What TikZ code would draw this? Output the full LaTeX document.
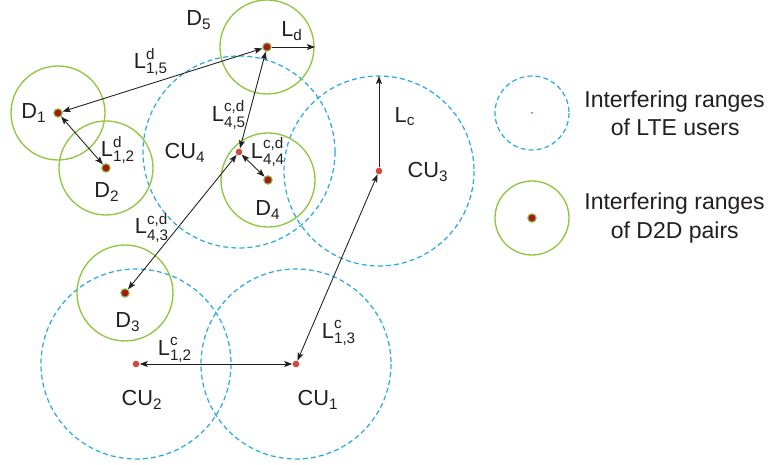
\documentclass[tikz,border=0pt]{standalone}
\usepackage{amsmath}
\usepackage{fontspec}
\setmainfont{Liberation Sans}
\usetikzlibrary{arrows.meta}
\definecolor{skyblue}{RGB}{41, 171, 226}
\definecolor{leafgreen}{RGB}{141, 198, 63}
\definecolor{darkred}{RGB}{165, 25, 25}
\definecolor{pointred}{RGB}{205, 75, 65}
\definecolor{inkgray}{RGB}{35, 31, 32}
\newcommand{\lnk}[3]{$\text{#1}^{\text{#2}}_{\text{#3}}$}
\newcommand{\idx}[2]{$\text{#1}_{\text{#2}}$}

\begin{document}
\begin{tikzpicture}[x=0.02cm, y=-0.02cm, >={Stealth[length=4.6pt, width=3.4pt, inset=1pt]},
    cellu/.style={skyblue, dash pattern=on 2.8pt off 1.8pt, line width=0.7pt},
    dpair/.style={leafgreen, line width=0.75pt},
    ddot/.style={circle, fill=darkred, draw=leafgreen, line width=0.6pt, inner sep=0pt, minimum size=4.8pt},
    cdot/.style={circle, fill=pointred, inner sep=0pt, minimum size=3.8pt},
    lbl/.style={font=\fontsize{12.4}{14}\selectfont, text=inkgray, inner sep=0pt},
    legtext/.style={font=\fontsize{13.1}{16}\selectfont, text=inkgray, align=left, anchor=west, inner sep=0pt},
    link/.style={<->, line width=0.5pt, inkgray}]
    \useasboundingbox (0,0) rectangle (768,465);
    % interfering ranges
    \draw[cellu] (239,152) circle (96);
    \draw[cellu] (379,171) circle (95);
    \draw[cellu] (136,364) circle (95);
    \draw[cellu] (296,364) circle (95);
    \draw[dpair] ( 58,113) circle (47);
    \draw[dpair] (106,168) circle (47);
    \draw[dpair] (267, 47) circle (47);
    \draw[dpair] (268,180) circle (47);
    \draw[dpair] (125,293) circle (48);
    % users
    \node[ddot] (d1) at ( 58,113) {};
    \node[ddot] (d2) at (106,168) {};
    \node[ddot] (d3) at (125,293) {};
    \node[ddot] (d4) at (268,180) {};
    \node[ddot] (d5) at (267, 47) {};
    \node[cdot] (cu1) at (296,364) {};
    \node[cdot] (cu2) at (136,364) {};
    \node[cdot] (cu3) at (379,171) {};
    \node[cdot] (cu4) at (239,152) {};
    \coordinate (ldend) at (315,47);
    \coordinate (lctop) at (379,76);
    % links
    \draw[link] (d1) -- (d5);
    \draw[link] (d1) -- (d2);
    \draw[link] (cu4) -- (d5);
    \draw[link] (cu4) -- (d4);
    \draw[link] (d3) -- (cu4);
    \draw[link] (cu1) -- (cu3);
    \draw[link] (cu2) -- (cu1);
    \draw[->, line width=0.5pt, inkgray] (d5) -- (ldend);
    \draw[->, line width=0.5pt, inkgray] (cu3) -- (lctop);
    % labels
    \node[lbl] (t5)  at (199, 20) {\idx{D}{5}};
    \node[lbl] (tld) at (292, 31) {\idx{L}{d}};
    \node[lbl] (t15) at (151, 62) {\lnk{L}{d}{1,5}};
    \node[lbl] (t1)  at ( 34,113) {\idx{D}{1}};
    \node[lbl] (t12) at (118,150) {\lnk{L}{d}{1,2}};
    \node[lbl] (t2)  at (107,192) {\idx{D}{2}};
    \node[lbl] (tc4) at (185,153) {\idx{CU}{4}};
    \node[lbl] (t45) at (229,115) {\lnk{L}{c,d}{4,5}};
    \node[lbl] (t44) at (268,152) {\lnk{L}{c,d}{4,4}};
    \node[lbl] (t4)  at (268,210) {\idx{D}{4}};
    \node[lbl] (t43) at (152,228) {\lnk{L}{c,d}{4,3}};
    \node[lbl] (tlc) at (405,117) {\idx{L}{c}};
    \node[lbl] (tc3) at (428,172) {\idx{CU}{3}};
    \node[lbl] (t3)  at (128,322) {\idx{D}{3}};
    \node[lbl] (tc12) at (175,350) {\lnk{L}{c}{1,2}};
    \node[lbl] (tc13) at (339,333) {\lnk{L}{c}{1,3}};
    \node[lbl] (tc2) at (142,400) {\idx{CU}{2}};
    \node[lbl] (tc1) at (318,400) {\idx{CU}{1}};
    % legend
    \draw[cellu] (532,113) circle (37);
    \fill[pointred] (532,113) circle (1);
    \node[legtext] (leglte) at (584,113) {Interfering ranges\\\hspace*{1.15em}of LTE users};
    \draw[dpair] (532,218) circle (37);
    \node[ddot] (legdot) at (532,218) {};
    \node[legtext] (legd2d) at (584,218) {Interfering ranges\\\hspace*{1.15em}of D2D pairs};
\end{tikzpicture}
\end{document}
